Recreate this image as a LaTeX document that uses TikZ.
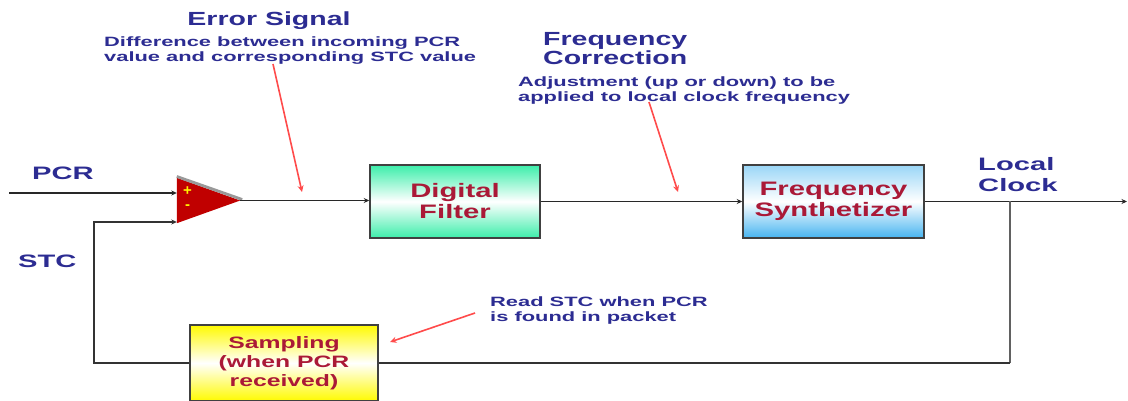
\documentclass[tikz,border=0pt]{standalone}
\usepackage{fontspec}
\setmainfont{Liberation Sans}
\newfontfamily\widesans[FakeStretch=1.5]{Liberation Sans}
\newfontfamily\widersans[FakeStretch=1.62]{Liberation Sans}
\usetikzlibrary{arrows.meta}

\definecolor{labelblue}{RGB}{44,44,146}
\definecolor{boxred}{RGB}{170,25,55}
\definecolor{ampred}{RGB}{192,0,0}
\definecolor{notered}{RGB}{255,75,75}
\definecolor{wire}{RGB}{40,40,40}
\definecolor{filtgreen}{RGB}{60,238,170}
\definecolor{synthblue}{RGB}{70,180,240}
\definecolor{sampyellow}{RGB}{255,250,0}

\begin{document}
\begin{tikzpicture}[x=1pt,y=-1pt,
  heading/.style={font=\widesans\bfseries\fontsize{19}{21}\selectfont, text=labelblue, inner sep=0, anchor=base west},
  note/.style={font=\widersans\bfseries\fontsize{13.5}{16}\selectfont, text=labelblue, inner sep=0, anchor=base west},
  sig/.style={font=\widersans\bfseries\fontsize{18}{21}\selectfont, text=labelblue, inner sep=0, anchor=base west},
  block/.style={draw=black!75, line width=1.5pt, align=center, text=boxred,
    font=\widesans\bfseries\fontsize{19.5}{21}\selectfont, inner sep=0, shading angle=45},
  wireline/.style={draw=wire, line width=1.6pt},
  feed/.style={draw=black!80, line width=2.1pt},
  tap/.style={draw=black!62, line width=2.8pt},
  tip/.style={-{Stealth[length=5.5pt,width=5pt]}},
  pointer/.style={draw=notered, line width=1.6pt, -{Stealth[length=6.5pt,width=6pt]}},
  sign/.style={text=yellow, font=\bfseries\fontsize{15}{15}\selectfont, inner sep=0},
]
\fill[white] (0,0) rectangle (1128,401);
\useasboundingbox (0,0) rectangle (1128,401);

% processing blocks
\node[block, minimum width=170pt, minimum height=73pt,
      top color=filtgreen, bottom color=filtgreen, middle color=white] (filt) at (455,201.5) {Digital\\Filter};
\node[block, minimum width=181pt, minimum height=73pt,
      top color=synthblue!55, bottom color=synthblue, middle color=white] (synth) at (833.5,201.5) {Frequency\\Synthetizer};
\node[block, minimum width=188pt, minimum height=76pt, font=\widesans\bfseries\fontsize{16.5}{19}\selectfont,
      top color=sampyellow, bottom color=sampyellow, middle color=white] (samp) at (284,363) {Sampling\\(when PCR\\received)};

% comparator
\node[minimum width=63pt, minimum height=45pt, inner sep=0] (amp) at (208.5,200.5) {};
\fill[ampred] (amp.north west) -- (amp.east) -- (amp.south west) -- cycle;
\draw[black!40, line width=2.8pt] ([yshift=1.3pt]amp.north west) -- ([yshift=1pt,xshift=2pt]amp.east);
\node[sign] (plus) at (187.5,191) {+};
\node[sign] (minus) at (187.5,207.5) {-};

% signal path
\coordinate (pcrIn) at (9,193);
\coordinate (stcCorner) at (94,222);
\coordinate (clkOut) at (1127,201.5);
\coordinate (clkTap) at (1010,201.5);
\draw[wireline, tip] (pcrIn) -- ([yshift=7.5pt]amp.west);
\draw[feed, tip] (samp.west) -| (stcCorner) -- ([yshift=-21.5pt]amp.west);
\draw[wireline, tip] (amp.east) -- (amp.east -| filt.west);
\draw[wireline, tip] (filt.east) -- (synth.west);
\draw[wireline, tip] (synth.east) -- (clkOut);
\draw[tap] (clkTap) -- (clkTap |- samp.east);
\draw[feed] (clkTap |- samp.east) -- (samp.east);

% labels
\node[heading, anchor=base] (esTitle) at (269,26) {Error Signal};
\node[note] (esLine1) at (104,46.5) {Difference between incoming PCR};
\node[note] (esLine2) at (104,62) {value and corresponding STC value};
\node[heading] (fcTitle1) at (543,46) {Frequency};
\node[heading] (fcTitle2) at (543,65) {Correction};
\node[note] (fcLine1) at (518,87) {Adjustment (up or down) to be};
\node[note] (fcLine2) at (518,102) {applied to local clock frequency};
\node[note] (rsLine1) at (490,306) {Read STC when PCR};
\node[note] (rsLine2) at (490,321) {is found in packet};
\node[sig] (pcrLabel) at (32,179) {PCR};
\node[sig] (stcLabel) at (18,267) {STC};
\node[sig] (clkLabel1) at (978,171) {Local};
\node[sig] (clkLabel2) at (978,192) {Clock};

% annotation pointers
\coordinate (esFrom) at (273,64);
\coordinate (esTo) at (302,192);
\coordinate (fcFrom) at (649,102);
\coordinate (fcTo) at (678,192);
\coordinate (rsFrom) at (475,313);
\coordinate (rsTo) at (390,342);
\draw[pointer] (esFrom) -- (esTo);
\draw[pointer] (fcFrom) -- (fcTo);
\draw[pointer] (rsFrom) -- (rsTo);
\end{tikzpicture}
\end{document}
